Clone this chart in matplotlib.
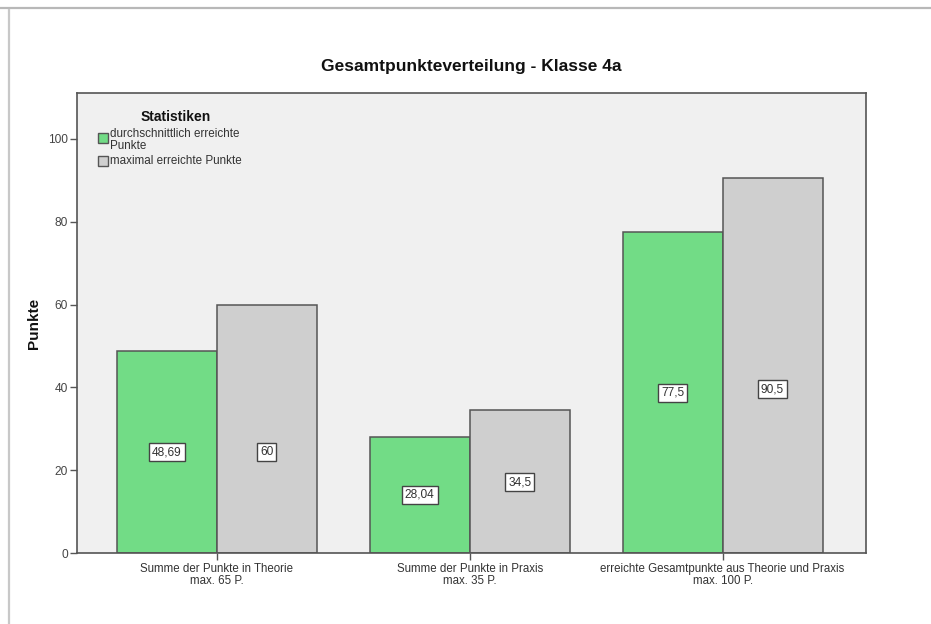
import matplotlib
matplotlib.use("Agg")
import matplotlib.pyplot as plt
import numpy as np
from matplotlib.lines import Line2D
from matplotlib.patches import Rectangle

plt.rcParams['font.family'] = ['Liberation Sans', 'DejaVu Sans']

categories = [
    "Summe der Punkte in Theorie\nmax. 65 P.",
    "Summe der Punkte in Praxis\nmax. 35 P.",
    "erreichte Gesamtpunkte aus Theorie und Praxis\nmax. 100 P.",
]
durchschnitt = [48.69, 28.04, 77.5]
maximal = [60, 34.5, 90.5]
series_names = ["durchschnittlich erreichte\nPunkte", "maximal erreichte Punkte"]
legend_title = "Statistiken"
yticks = [0, 20, 40, 60, 80, 100]

green = "#72dc86"
grey = "#cfcfcf"
edge = "#555555"

W, H = 931, 624
fig = plt.figure(figsize=(W / 100, H / 100), dpi=100)
fig.patch.set_facecolor("white")


def fx(px):
    return px / W


def fy(py):
    return 1 - py / H


# window border lines
fig.add_artist(Line2D([0, 1], [fy(7.5), fy(7.5)], color="#b8b8b8", lw=1.6))
fig.add_artist(Line2D([fx(9), fx(9)], [0, fy(10)], color="#c8c8c8", lw=1.6))

ax = fig.add_axes([fx(77), fy(553), fx(866 - 77), (553 - 93) / H])
ax.set_facecolor("#f0f0f0")

x = np.arange(len(categories))
w = 0.395
b1 = ax.bar(x - w / 2, durchschnitt, w, color=green, edgecolor=edge, linewidth=1.1)
b2 = ax.bar(x + w / 2, maximal, w, color=grey, edgecolor=edge, linewidth=1.1)


def fmt(v):
    s = f"{v:.2f}".rstrip("0").rstrip(".")
    return s.replace(".", ",")


# value boxes sit inside the bars, grey ones at their own heights
green_label_y = [v / 2 for v in durchschnitt]
grey_label_y = [24.3, 17.1, 39.6]
for bars, vals, ys in ((b1, durchschnitt, green_label_y), (b2, maximal, grey_label_y)):
    for rect, v, yy in zip(bars, vals, ys):
        ax.text(rect.get_x() + rect.get_width() / 2, yy, fmt(v),
                ha="center", va="center", fontsize=8.6, color="#333333",
                bbox=dict(boxstyle="square,pad=0.25", fc="white", ec="#444444", lw=1.0))

ax.set_xlim(-0.553, 2.567)
ax.set_ylim(0, 111.1)
ax.set_yticks(yticks)
ax.set_yticklabels([str(t) for t in yticks])
ax.set_xticks(x)
ax.set_xticklabels(categories, fontsize=8.3, color="#333333", linespacing=1.0)
ax.tick_params(axis="y", labelsize=8.6, labelcolor="#444444", color=edge, length=5, width=1,
               pad=1.5)
ax.tick_params(axis="x", color=edge, length=5, width=1, pad=2)

for s in ax.spines.values():
    s.set_color(edge)
    s.set_linewidth(1.2)

ax.set_ylabel("Punkte", fontsize=11, fontweight="bold", labelpad=5, color="#111111")
ax.set_title("Gesamtpunkteverteilung - Klasse 4a", fontsize=12.5, fontweight="bold",
             pad=16, color="#111111")

# legend block in the upper left corner of the plot area
fig.text(fx(176), fy(117), legend_title, ha="center", va="center",
         fontsize=10, fontweight="bold", color="#111111")
for (top, colour, label, text_y) in ((133, green, series_names[0], 140),
                                     (155.5, grey, series_names[1], 160.5)):
    fig.add_artist(Rectangle((fx(98), fy(top + 10)), fx(10), 10 / H,
                             facecolor=colour, edgecolor=edge, lw=1.0))
    fig.text(fx(110), fy(text_y), label, ha="left", va="center",
             fontsize=8.4, color="#333333", linespacing=0.95)

fig.savefig("out.png", dpi=100)
